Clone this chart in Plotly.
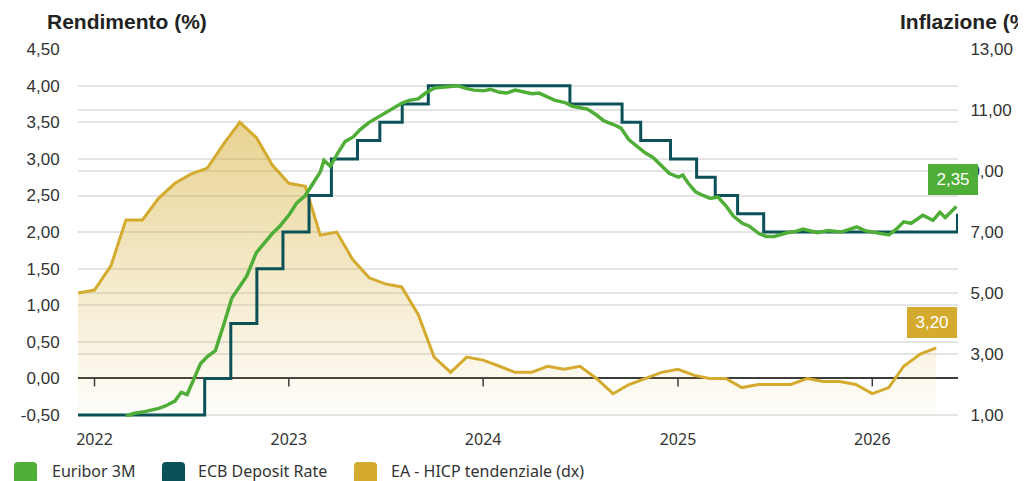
import pandas as pd
import plotly.graph_objects as go

# ---------------- DATA ----------------
# EA - HICP tendenziale (%, monthly, right axis)
hicp_dates = [d.strftime('%Y-%m-%d') for d in pd.date_range('2021-12-01', '2026-05-01', freq='MS')]
hicp_values = [5.0,
               5.1, 5.9, 7.4, 7.4, 8.1, 8.6, 8.9, 9.1, 9.9, 10.6, 10.1, 9.2,
               8.6, 8.5, 6.9, 7.0, 6.1, 5.5, 5.3, 5.2, 4.3, 2.9, 2.4, 2.9,
               2.8, 2.6, 2.4, 2.4, 2.6, 2.5, 2.6, 2.2, 1.7, 2.0, 2.2, 2.4,
               2.5, 2.3, 2.2, 2.2, 1.9, 2.0, 2.0, 2.0, 2.2, 2.1, 2.1, 2.0,
               1.7, 1.9, 2.6, 3.0, 3.2]

# ECB Deposit Rate (%, step changes)
ecb_dates = ['2021-12-01', '2022-07-27', '2022-09-14', '2022-11-02', '2022-12-21',
             '2023-02-08', '2023-03-22', '2023-05-10', '2023-06-21', '2023-08-02',
             '2023-09-20', '2024-06-12', '2024-09-18', '2024-10-23', '2024-12-18',
             '2025-02-05', '2025-03-12', '2025-04-23', '2025-06-11', '2026-06-10']
ecb_values = [-0.50, 0.00, 0.75, 1.50, 2.00,
              2.50, 3.00, 3.25, 3.50, 3.75,
              4.00, 3.75, 3.50, 3.25, 3.00,
              2.75, 2.50, 2.25, 2.00, 2.25]

# Euribor 3M (%)
euribor_dates = ['2022-03-01', '2022-03-15', '2022-04-01', '2022-04-15', '2022-05-02', '2022-05-16',
                 '2022-06-01', '2022-06-13', '2022-06-24', '2022-07-06', '2022-07-19', '2022-08-01',
                 '2022-08-16', '2022-09-01', '2022-09-16', '2022-10-03', '2022-10-14', '2022-11-01',
                 '2022-11-15', '2022-12-01', '2022-12-15', '2023-01-02', '2023-01-16', '2023-02-01',
                 '2023-02-15', '2023-03-01', '2023-03-08', '2023-03-20', '2023-04-03', '2023-04-17',
                 '2023-05-02', '2023-05-15', '2023-06-01', '2023-06-15', '2023-07-03', '2023-07-17',
                 '2023-08-01', '2023-08-15', '2023-09-01', '2023-09-15', '2023-10-02', '2023-10-16',
                 '2023-11-01', '2023-11-15', '2023-12-01', '2023-12-15', '2024-01-02', '2024-01-15',
                 '2024-02-01', '2024-02-15', '2024-03-01', '2024-03-15', '2024-04-02', '2024-04-15',
                 '2024-05-02', '2024-05-15', '2024-06-03', '2024-06-17', '2024-07-01', '2024-07-15',
                 '2024-08-01', '2024-08-15', '2024-09-02', '2024-09-16', '2024-10-01', '2024-10-15',
                 '2024-11-01', '2024-11-15', '2024-12-02', '2024-12-16', '2025-01-02', '2025-01-10',
                 '2025-01-20', '2025-02-03', '2025-02-17', '2025-03-03', '2025-03-17', '2025-04-01',
                 '2025-04-15', '2025-05-02', '2025-05-15', '2025-06-02', '2025-06-16', '2025-07-01',
                 '2025-07-25', '2025-08-10', '2025-08-24', '2025-09-20', '2025-10-10', '2025-11-03',
                 '2025-11-20', '2025-12-03', '2025-12-18', '2026-01-03', '2026-01-18', '2026-02-01',
                 '2026-02-15', '2026-03-01', '2026-03-15', '2026-04-06', '2026-04-25', '2026-05-08',
                 '2026-05-18', '2026-06-08']
euribor_values = [-0.52, -0.48, -0.46, -0.44, -0.41, -0.37,
                  -0.31, -0.19, -0.22, -0.02, 0.20, 0.30,
                  0.38, 0.74, 1.10, 1.28, 1.40, 1.72,
                  1.84, 1.98, 2.08, 2.24, 2.40, 2.50,
                  2.66, 2.82, 2.98, 2.90, 3.08, 3.24,
                  3.30, 3.40, 3.50, 3.56, 3.64, 3.70,
                  3.76, 3.80, 3.82, 3.90, 3.97, 3.98,
                  3.99, 4.00, 3.96, 3.94, 3.93, 3.95,
                  3.91, 3.90, 3.94, 3.92, 3.89, 3.90,
                  3.84, 3.80, 3.77, 3.72, 3.70, 3.68,
                  3.60, 3.52, 3.47, 3.42, 3.26, 3.18,
                  3.08, 3.02, 2.90, 2.80, 2.75, 2.78,
                  2.67, 2.55, 2.50, 2.46, 2.48, 2.36,
                  2.22, 2.12, 2.08, 1.98, 1.94, 1.94,
                  1.99, 2.01, 2.04, 1.99, 2.02, 2.00,
                  2.04, 2.07, 2.02, 2.00, 1.98, 1.96,
                  2.04, 2.14, 2.12, 2.23, 2.16, 2.27,
                  2.20, 2.35]

rate_ticks = [-0.5, 0.0, 0.5, 1.0, 1.5, 2.0, 2.5, 3.0, 3.5, 4.0, 4.5]
infl_ticks = [1, 3, 5, 7, 9, 11, 13]
year_ticks = ['2022-01-01', '2023-01-01', '2024-01-01', '2025-01-01', '2026-01-01']
year_labels = ['2022', '2023', '2024', '2025', '2026']

series_names = ['Euribor 3M', 'ECB Deposit Rate', 'EA - HICP tendenziale (dx)']

# ---------------- STYLE ----------------
GREEN = '#4fae37'
TEAL = '#0b5157'
GOLD = '#d4ab2e'
GRID = '#e4e4e4'
TXT = '#333333'

OFF = 8                      # page body margin of the html output
W, H = 1026 - OFF, 481 - OFF
ML, MR, MT, MB = 70, 68, 41, 64
PW, PH = W - ML - MR, H - MT - MB
PLOT_LEFT_PAGE = OFF + ML
PLOT_BOTTOM_PAGE = OFF + H - MB

RATE_RANGE = [-0.527, 4.502]
INFL_RANGE = [1 + (RATE_RANGE[0] + 0.5) * 2.4, 1 + (RATE_RANGE[1] + 0.5) * 2.4]


def it(v):
    return f"{v:.2f}".replace('.', ',')


def px_x(px):
    return (px - PLOT_LEFT_PAGE) / PW


def px_y(py):
    return (PLOT_BOTTOM_PAGE - py) / PH


def rpath(x0, x1, y0, y1, r):
    return (f"M {x0 + r},{y0} L {x1 - r},{y0} Q {x1},{y0} {x1},{y0 + r} "
            f"L {x1},{y1 - r} Q {x1},{y1} {x1 - r},{y1} L {x0 + r},{y1} "
            f"Q {x0},{y1} {x0},{y1 - r} L {x0},{y0 + r} Q {x0},{y0} {x0 + r},{y0} Z")


fig = go.Figure()

fig.add_trace(go.Scatter(
    x=hicp_dates, y=hicp_values, yaxis='y', mode='lines', name=series_names[2],
    line=dict(color=GOLD, width=3),
    fill='tozeroy',
    fillgradient=dict(type='vertical',
                      colorscale=[[0, 'rgba(212,171,46,0.02)'], [1, 'rgba(212,171,46,0.52)']],
                      start=INFL_RANGE[0], stop=max(hicp_values)),
    hoverinfo='skip'))

fig.add_trace(go.Scatter(
    x=ecb_dates, y=ecb_values, yaxis='y2', mode='lines', name=series_names[1],
    line=dict(color=TEAL, width=3, shape='hv'), hoverinfo='skip'))

fig.add_trace(go.Scatter(
    x=euribor_dates, y=euribor_values, yaxis='y2', mode='lines', name=series_names[0],
    line=dict(color=GREEN, width=3.5), hoverinfo='skip'))

shapes = []
annotations = []

# year ticks on the zero line
for d in year_ticks:
    shapes.append(dict(type='line', xref='x', yref='y2', ysizemode='pixel', yanchor=0,
                       x0=d, x1=d, y0=0, y1=-8, line=dict(color='#3c3c3c', width=1.5)))

# last-value labels (boxes above the final points)
label_specs = [
    (euribor_dates[-1], euribor_values[-1], 'y2', GREEN, -3, 11),
    (hicp_dates[-1], hicp_values[-1], 'y', GOLD, -4, 10),
]
for xd, yv, yr, col, dx, gap in label_specs:
    annotations.append(dict(x=xd, y=yv, xref='x', yref=yr, text=it(yv), showarrow=False,
                            xanchor='center', yanchor='bottom', xshift=dx, yshift=gap,
                            width=50, height=31, align='center', valign='middle',
                            bgcolor=col, borderpad=0, borderwidth=0,
                            font=dict(family='Liberation Sans', size=17, color='white')))

# legend (page pixel positions)
legend_items = [(series_names[0], GREEN, 14, 50),
                (series_names[1], TEAL, 162, 196),
                (series_names[2], GOLD, 354, 389)]
for name, col, sx, tx in legend_items:
    shapes.append(dict(type='path', xref='paper', yref='paper', xsizemode='pixel', ysizemode='pixel',
                       xanchor=0, yanchor=0,
                       path=rpath(sx - PLOT_LEFT_PAGE, sx + 23 - PLOT_LEFT_PAGE,
                                  PLOT_BOTTOM_PAGE - 484, PLOT_BOTTOM_PAGE - 462, 4),
                       fillcolor=col, line=dict(width=0)))
    annotations.append(dict(x=px_x(tx), y=px_y(471), xref='paper', yref='paper', text=name,
                            showarrow=False, xanchor='left', yanchor='middle',
                            font=dict(family='Noto Sans', size=16, color=TXT)))

# axis titles
annotations.append(dict(x=px_x(45), y=px_y(22), xref='paper', yref='paper', text='Rendimento (%)',
                        showarrow=False, xanchor='left', yanchor='middle',
                        font=dict(family='Liberation Sans', size=21, color='#222', weight=700)))
annotations.append(dict(x=px_x(898), y=px_y(22), xref='paper', yref='paper', text='Inflazione (%)',
                        showarrow=False, xanchor='left', yanchor='middle',
                        font=dict(family='Liberation Sans', size=21, color='#222', weight=700)))

fig.update_layout(
    width=W, height=H, autosize=False,
    margin=dict(l=ML, r=MR, t=MT, b=MB, pad=0),
    paper_bgcolor='white', plot_bgcolor='white', showlegend=False,
    xaxis=dict(type='date', range=['2021-12-01', '2026-06-11'],
               tickvals=year_ticks, ticktext=year_labels,
               showgrid=False, zeroline=False, showline=False,
               ticks='outside', ticklen=8, tickcolor='rgba(0,0,0,0)',
               tickfont=dict(family='Noto Sans', size=16, color=TXT)),
    yaxis=dict(side='right', range=INFL_RANGE,
               tickvals=infl_ticks, ticktext=[it(v) for v in infl_ticks],
               showgrid=True, gridcolor=GRID, gridwidth=1.5, zeroline=False, showline=False,
               ticks='outside', ticklen=8, tickcolor='rgba(0,0,0,0)',
               tickfont=dict(family='Liberation Sans', size=17, color=TXT)),
    yaxis2=dict(side='left', overlaying='y', range=RATE_RANGE,
                tickvals=rate_ticks, ticktext=[it(v) for v in rate_ticks],
                showgrid=True, gridcolor=GRID, gridwidth=1.5,
                zeroline=True, zerolinecolor='#3c3c3c', zerolinewidth=1.5, showline=False,
                ticks='outside', ticklen=14, tickcolor='rgba(0,0,0,0)',
                tickfont=dict(family='Liberation Sans', size=17, color=TXT)),
    shapes=shapes,
    annotations=annotations,
)

fig.write_html("out.html")
